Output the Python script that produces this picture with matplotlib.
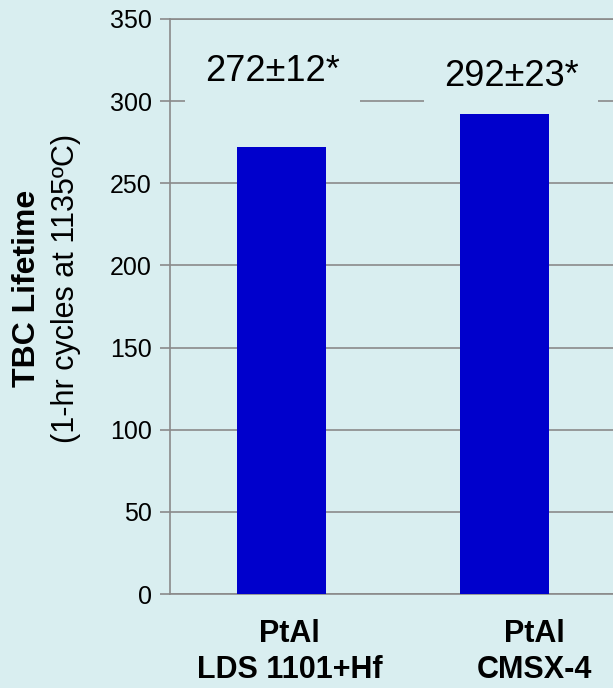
import matplotlib
matplotlib.use("Agg")
import matplotlib.pyplot as plt

plt.rcParams['font.family'] = ['Liberation Sans', 'DejaVu Sans']

# data
categories = ["PtAl\nLDS 1101+Hf", "PtAl\nCMSX-4"]
lifetimes = [272, 292]
annotations = ["272\u00b112*", "292\u00b123*"]
yticks = [0, 50, 100, 150, 200, 250, 300, 350]

bg = "#d9eef0"
bar_color = "#0000cc"
grid_color = "#8a8a8a"

fig = plt.figure(figsize=(6.13, 6.88), dpi=100, facecolor=bg)
ax = fig.add_axes([170 / 613, 94 / 688, 446 / 613, 575 / 688])
ax.set_facecolor(bg)

x = list(range(len(categories)))
ax.bar(x, lifetimes, width=0.4, color=bar_color, zorder=3)

ax.set_xlim(-0.5, 1.5)
ax.set_ylim(0, 350)
ax.set_yticks(yticks)
ax.set_yticklabels([str(t) for t in yticks], fontsize=18)
ax.tick_params(axis='y', direction='out', length=7, color=grid_color, width=1.2, pad=6)
ax.set_xticks([])
ax.yaxis.grid(True, color=grid_color, linewidth=1.2, zorder=0)
for side in ['left', 'bottom', 'top']:
    ax.spines[side].set_color(grid_color)
    ax.spines[side].set_linewidth(1.2)
ax.spines['right'].set_visible(False)
ax.set_axisbelow(True)

# value labels with background boxes that hide the gridline
label_dx = [-0.04, 0.03]
label_y = [318, 315]
for i, txt in enumerate(annotations):
    ax.text(i + label_dx[i], label_y[i], txt, ha='center', va='center', fontsize=26,
            zorder=4, bbox=dict(boxstyle='square,pad=0.55', facecolor=bg, edgecolor='none'))

# category labels below the axis
cat_dx = [0.036, 0.135]
for i, lab in enumerate(categories):
    ax.text(i + cat_dx[i], -0.101, lab, transform=ax.get_xaxis_transform(),
            ha='center', va='center', fontsize=22, fontweight='bold', linespacing=1.25)

# y axis title (two lines, different weights)
fig.text(27 / 613, 1 - 288 / 688, "TBC Lifetime", rotation=90, ha='center', va='center',
         fontsize=23, fontweight='bold')
fig.text(66 / 613, 1 - 288 / 688, "(1-hr cycles at 1135\u00baC)", rotation=90,
         ha='center', va='center', fontsize=22)

fig.savefig("out.png", dpi=100, facecolor=bg)
